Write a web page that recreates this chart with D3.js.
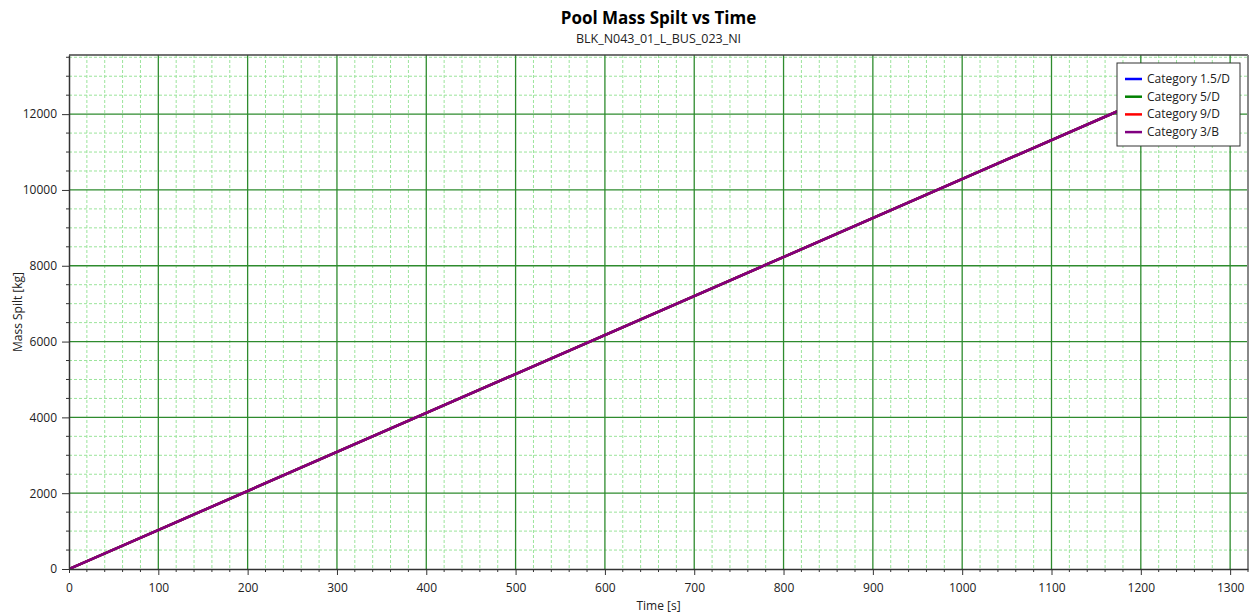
<!DOCTYPE html>
<html>
<head>
<meta charset="utf-8">
<script src="https://cdn.jsdelivr.net/npm/d3@7"></script>
<style>
  body { margin: 0; background: #fff; }
  text { font-family: "Open Sans", "Noto Sans", sans-serif; fill: #222; }
</style>
</head>
<body>
<div id="chart"></div>
<script>
// chart data
var seriesNames = ["Category 1.5/D", "Category 5/D", "Category 9/D", "Category 3/B"];
var seriesColors = ["#0000ff", "#008000", "#ff0000", "#800080"];
var timeValues = [0, 1290];
var cat15D = [0, 13270];
var cat5D = [0, 13270];
var cat9D = [0, 13270];
var cat3B = [0, 13270];
var xTicks = [0, 100, 200, 300, 400, 500, 600, 700, 800, 900, 1000, 1100, 1200, 1300];
var yTicks = [0, 2000, 4000, 6000, 8000, 10000, 12000];

var W = 1253, H = 615;
var margin = {top: 55, right: 5, bottom: 46, left: 69},
    width = W - margin.left - margin.right,
    height = H - margin.top - margin.bottom;

var svg = d3.select("#chart").append("svg")
  .attr("width", W).attr("height", H);

var g = svg.append("g")
  .attr("transform", "translate(" + margin.left + "," + margin.top + ")");

var x = d3.scaleLinear().domain([0, 1320]).range([0, width]);
var y = d3.scaleLinear().domain([0, 13560]).range([height, 0]);

// minor grid
var xMinor = d3.range(0, 1321, 20).filter(function(v) { return v % 100 !== 0; });
var yMinor = d3.range(0, 13561, 500).filter(function(v) { return v % 2000 !== 0; });

g.selectAll(".vminor").data(xMinor).enter().append("line")
  .attr("x1", function(d) { return x(d); }).attr("x2", function(d) { return x(d); })
  .attr("y1", 0).attr("y2", height)
  .attr("stroke", "#9be49b").attr("stroke-width", 1).attr("stroke-dasharray", "3,2");
g.selectAll(".hminor").data(yMinor).enter().append("line")
  .attr("y1", function(d) { return y(d); }).attr("y2", function(d) { return y(d); })
  .attr("x1", 0).attr("x2", width)
  .attr("stroke", "#9be49b").attr("stroke-width", 1).attr("stroke-dasharray", "3,2");

// major grid
g.selectAll(".vmajor").data(xTicks.slice(1)).enter().append("line")
  .attr("x1", function(d) { return x(d); }).attr("x2", function(d) { return x(d); })
  .attr("y1", 0).attr("y2", height)
  .attr("stroke", "#2e8b2e").attr("stroke-width", 1.3);
g.selectAll(".hmajor").data(yTicks.slice(1)).enter().append("line")
  .attr("y1", function(d) { return y(d); }).attr("y2", function(d) { return y(d); })
  .attr("x1", 0).attr("x2", width)
  .attr("stroke", "#2e8b2e").attr("stroke-width", 1.3);

// series lines
var allSeries = [cat15D, cat5D, cat9D, cat3B];
svg.append("clipPath").attr("id", "clip")
  .append("rect").attr("width", width).attr("height", height);

var line = d3.line()
  .x(function(d, i) { return x(timeValues[i]); })
  .y(function(d) { return y(d); });

g.append("g").attr("clip-path", "url(#clip)")
  .selectAll("path").data(allSeries).enter().append("path")
  .attr("d", line)
  .attr("fill", "none")
  .attr("stroke", function(d, i) { return seriesColors[i]; })
  .attr("stroke-width", 2.5);

// frame
g.append("line").attr("x1", 0).attr("x2", width).attr("y1", 0).attr("y2", 0)
  .attr("stroke", "#444").attr("stroke-width", 1.5);
g.append("line").attr("x1", width).attr("x2", width).attr("y1", 0).attr("y2", height)
  .attr("stroke", "#888").attr("stroke-width", 2);

// axes
var fmt = d3.format("d");
var xAxis = g.append("g").attr("transform", "translate(0," + height + ")")
  .call(d3.axisBottom(x).tickValues(xTicks).tickFormat(fmt).tickSize(6).tickSizeOuter(0).tickPadding(8));
xAxis.selectAll(".tick").filter(function(d) { return d === 0; }).select("line").attr("y2", 4);
xAxis.selectAll(".xminor").data(xMinor).enter().append("line")
  .attr("x1", function(d) { return x(d); }).attr("x2", function(d) { return x(d); })
  .attr("y1", 0).attr("y2", 3).attr("stroke", "#333");

var yAxis = g.append("g")
  .call(d3.axisLeft(y).tickValues(yTicks).tickFormat(fmt).tickSize(7).tickSizeOuter(0).tickPadding(5));
yAxis.selectAll(".yminor").data(yMinor).enter().append("line")
  .attr("y1", function(d) { return y(d); }).attr("y2", function(d) { return y(d); })
  .attr("x1", 0).attr("x2", -3).attr("stroke", "#333");

[xAxis, yAxis].forEach(function(a) {
  a.select(".domain").attr("stroke", "#333").attr("stroke-width", 1.5);
  a.selectAll(".tick line").attr("stroke", "#333");
  a.selectAll("text").attr("font-size", 12)
    .style("font-family", "'Open Sans', 'Noto Sans', sans-serif").attr("fill", "#222");
});

// titles
svg.append("text").attr("x", margin.left + width / 2).attr("y", 24)
  .attr("text-anchor", "middle").attr("font-size", 17).attr("font-weight", "bold")
  .style("fill", "#000").text("Pool Mass Spilt vs Time");
svg.append("text").attr("x", margin.left + width / 2).attr("y", 43)
  .attr("text-anchor", "middle").attr("font-size", 12.5)
  .text("BLK_N043_01_L_BUS_023_NI");
svg.append("text").attr("x", margin.left + width / 2).attr("y", 610)
  .attr("text-anchor", "middle").attr("font-size", 12).text("Time [s]");
svg.append("text")
  .attr("transform", "translate(22," + (margin.top + height / 2) + ")rotate(-90)")
  .attr("text-anchor", "middle").attr("font-size", 12).text("Mass Spilt [kg]");

// legend
var legend = svg.append("g").attr("transform", "translate(1117,63)");
legend.append("rect").attr("width", 123).attr("height", 83)
  .attr("fill", "#fff").attr("stroke", "#333").attr("stroke-width", 1);
seriesNames.forEach(function(name, i) {
  var ly = 16 + i * 17.7;
  legend.append("line").attr("x1", 8).attr("x2", 25).attr("y1", ly).attr("y2", ly)
    .attr("stroke", seriesColors[i]).attr("stroke-width", 2.5);
  legend.append("text").attr("x", 30).attr("y", ly + 4).attr("font-size", 12).text(name);
});
</script>
</body>
</html>
